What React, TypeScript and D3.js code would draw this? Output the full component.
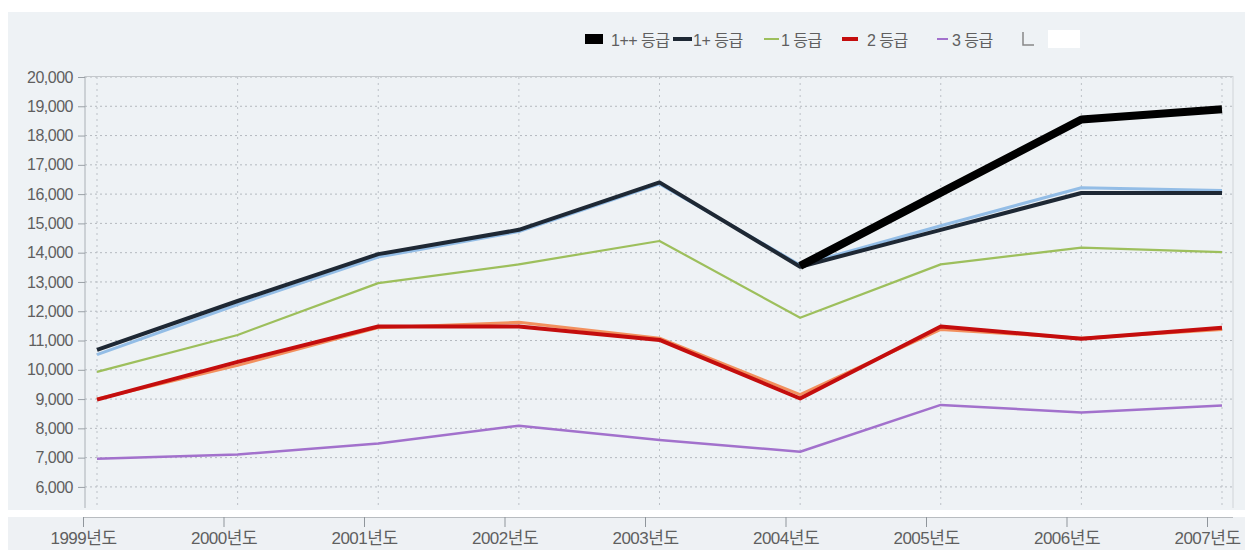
import React, { useEffect, useRef } from 'react';
import * as d3 from 'd3';

const years = ['1999년도', '2000년도', '2001년도', '2002년도', '2003년도', '2004년도', '2005년도', '2006년도', '2007년도'];
const yTicks = [6000, 7000, 8000, 9000, 10000, 11000, 12000, 13000, 14000, 15000, 16000, 17000, 18000, 19000, 20000];

const grade1pp = [null, null, null, null, null, 13550, 16050, 18550, 18900];
const grade1p = [10680, 12350, 13950, 14780, 16400, 13520, 14780, 16040, 16040];
const grade1pShade = [10520, 12230, 13850, 14720, 16350, 13580, 14920, 16220, 16120];
const grade1 = [9930, 11190, 12960, 13600, 14400, 11780, 13600, 14170, 14020];
const grade2 = [8980, 10270, 11480, 11480, 11020, 9020, 11480, 11060, 11440];
const grade2Shade = [9000, 10150, 11440, 11620, 11080, 9150, 11380, 11080, 11380];
const grade3 = [6960, 7110, 7480, 8090, 7600, 7200, 8800, 8540, 8780];

const legendLabels = ['1++ 등급', '1+ 등급', '1 등급', '2 등급', '3 등급'];

const FONT = '"Liberation Sans", Arial, "Noto Sans CJK KR", sans-serif';

const App: React.FC = () => {
  const ref = useRef<SVGSVGElement | null>(null);

  useEffect(() => {
    if (ref.current) draw();
  }, []);

  const draw = () => {
    const svg = d3.select(ref.current);
    svg.selectAll('*').remove();

    const width = 1249;
    const height = 550;

    // panels
    svg.append('rect').attr('width', width).attr('height', height).attr('fill', '#ffffff');
    svg.append('rect').attr('x', 8).attr('y', 12).attr('width', 1237).attr('height', 498).attr('fill', '#eef2f5');
    svg.append('rect').attr('x', 8).attr('y', 517).attr('width', 1237).attr('height', 33).attr('fill', '#eef1f4');

    const x = d3.scalePoint<string>().domain(years).range([97, 1222]);
    const xAxisScale = d3.scalePoint<string>().domain(years).range([83, 1207]);
    const y = d3.scaleLinear().domain([5280, 20000]).range([508, 77]);

    // grid
    const grid = svg.append('g');
    grid.selectAll('.hg')
      .data(yTicks)
      .enter().append('line')
      .attr('x1', 85).attr('x2', 1233)
      .attr('y1', d => y(d)).attr('y2', d => y(d))
      .attr('stroke', '#b4b9bf')
      .attr('stroke-width', 1)
      .attr('stroke-dasharray', '2,3');
    grid.selectAll('.vg')
      .data(years)
      .enter().append('line')
      .attr('x1', d => x(d) || 0).attr('x2', d => x(d) || 0)
      .attr('y1', 77).attr('y2', 508)
      .attr('stroke', '#bcc1c7')
      .attr('stroke-width', 1)
      .attr('stroke-dasharray', '2,4');

    // frame
    svg.append('line').attr('x1', 85).attr('x2', 85).attr('y1', 76).attr('y2', 508).attr('stroke', '#aab0b6');
    svg.append('line').attr('x1', 85).attr('x2', 1233).attr('y1', 76.5).attr('y2', 76.5).attr('stroke', '#c4c8cc');
    svg.append('line').attr('x1', 1233).attr('x2', 1233).attr('y1', 76).attr('y2', 508).attr('stroke', '#d0d4d8');

    // y axis
    const yAxis = svg.append('g')
      .attr('transform', 'translate(85,0)')
      .call(d3.axisLeft(y).tickValues(yTicks).tickFormat(d3.format(',')).tickSize(7).tickPadding(5));
    yAxis.select('.domain').remove();
    yAxis.selectAll('line').attr('stroke', '#9aa0a6');
    yAxis.selectAll('text')
      .attr('fill', '#5f5f5f')
      .attr('font-size', 16)
      .attr('letter-spacing', -0.5)
      .attr('font-family', FONT);

    // x axis
    const xAxis = svg.append('g')
      .attr('transform', 'translate(0,517)')
      .call(d3.axisBottom(xAxisScale).tickSize(10).tickPadding(5).tickSizeOuter(0));
    xAxis.select('.domain').attr('stroke', '#b8bcc0').attr('d', 'M83,0.5H1233');
    xAxis.selectAll('line').attr('stroke', '#8f959b');
    xAxis.selectAll('text')
      .attr('fill', '#5f5f5f')
      .attr('font-size', 17)
      .attr('letter-spacing', -0.5)
      .attr('font-family', FONT);

    const line = d3.line<number | null>()
      .defined(d => d !== null)
      .x((_, i) => x(years[i]) || 0)
      .y(d => y(d as number));

    const series = [
      { data: grade3, color: '#a271cc', w: 2.5 },
      { data: grade2Shade, color: '#f2905e', w: 3 },
      { data: grade2, color: '#c40d0d', w: 4 },
      { data: grade1, color: '#9dbf5c', w: 2.2 },
      { data: grade1pShade, color: '#93bde6', w: 3 },
      { data: grade1p, color: '#1e2834', w: 4 },
      { data: grade1pp, color: '#000000', w: 8 },
    ];

    svg.append('g').selectAll('path')
      .data(series)
      .enter().append('path')
      .attr('d', d => line(d.data))
      .attr('fill', 'none')
      .attr('stroke', d => d.color)
      .attr('stroke-width', d => d.w)
      .attr('stroke-linejoin', 'round');

    // legend
    const legend = svg.append('g').attr('font-family', FONT).attr('font-size', 16).attr('fill', '#5f5f5f');
    legend.append('rect').attr('x', 585).attr('y', 34).attr('width', 18).attr('height', 10).attr('fill', '#000');
    legend.append('rect').attr('x', 673).attr('y', 37).attr('width', 19).attr('height', 4).attr('fill', '#1e2834');
    legend.append('rect').attr('x', 764).attr('y', 38).attr('width', 15).attr('height', 2).attr('fill', '#9dbf5c');
    legend.append('rect').attr('x', 842).attr('y', 37).attr('width', 16).attr('height', 4).attr('fill', '#c40d0d');
    legend.append('rect').attr('x', 937).attr('y', 38).attr('width', 11).attr('height', 2).attr('fill', '#a271cc');
    const textX = [611, 693, 781, 867, 952];
    legendLabels.forEach((t, i) => {
      legend.append('text').attr('x', textX[i]).attr('y', 46).attr('letter-spacing', -0.5).text(t);
    });
    legend.append('path').attr('d', 'M1023,32V45H1034').attr('fill', 'none').attr('stroke', '#888').attr('stroke-width', 1.5);
    legend.append('rect').attr('x', 1048).attr('y', 30).attr('width', 32).attr('height', 18).attr('fill', '#ffffff');
  };

  return (
    <div style={{ position: 'absolute', left: 0, top: 0 }}>
      <svg ref={ref} width={1249} height={550}></svg>
    </div>
  );
};

export default App;
